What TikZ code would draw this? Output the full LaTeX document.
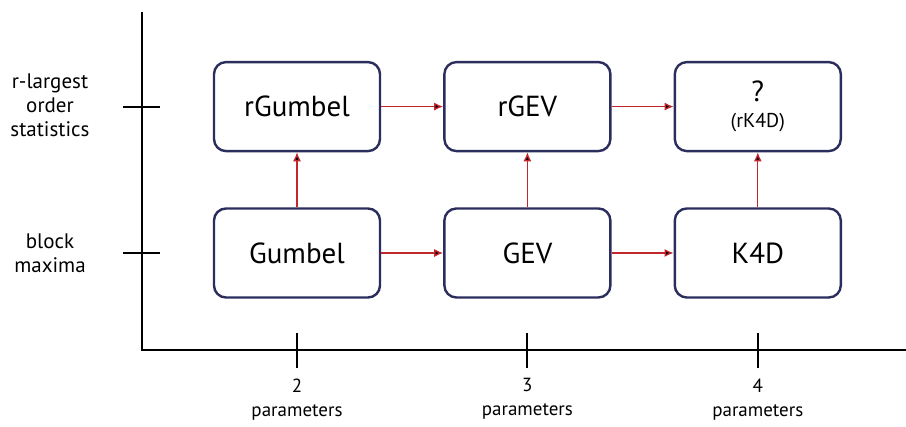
\documentclass[tikz,border=0pt]{standalone}
\usepackage{fontspec}
\setmainfont{PT Sans}
\usetikzlibrary{arrows.meta, positioning}

\definecolor{boxline}{HTML}{2B2D5C}
\definecolor{arrred}{HTML}{C1272D}

\begin{document}
\begin{tikzpicture}[x=1pt, y=1pt,
node distance = 55pt and 62pt,
box/.style = {draw=boxline, line width=2.4pt, rounded corners=12pt,
              minimum width=166pt, minimum height=89pt,
              align=center, font=\fontsize{29}{33}\selectfont},
lbl/.style = {align=center, font=\fontsize{21}{25}\selectfont},
axis/.style = {line width=2pt},
arr/.style = {draw=arrred, line width=1.3pt, -{Latex[length=9pt,width=8pt]}},
                    ]
%---
\useasboundingbox (0,0) rectangle (906,427);

\node[box] (gumbel) at (297,174) {Gumbel};
\node[box] (gev)  [right=of gumbel] {GEV};
\node[box] (kfd)  [right=of gev]    {K4D};
\node[box] (rgumbel) [above=of gumbel] {rGumbel};
\node[box] (rgev) [above=of gev]    {rGEV};
\node[box] (rkfd) [above=of kfd]    {?\\[-7pt]{\fontsize{20}{24}\selectfont (rK4D)}};

% axes
\coordinate (origin) at (142,77);
\coordinate (ytop)   at (142,415);
\coordinate (xend)   at (906,77);
\draw[axis] (ytop) -- (origin) -- (xend);

% ticks on the y axis
\foreach \n in {gumbel, rgumbel}
    \draw[axis] (origin |- \n) ++(-19,0) -- ++(37,0);
% ticks on the x axis
\foreach \n in {gumbel, gev, kfd}
    \draw[axis] (\n |- origin) ++(0,17) -- ++(0,-35);

% labels
\node[lbl] (rlo) at (50,322) {r-largest\\[-1pt] order\\[-1pt] statistics};
\node[lbl] (bm)  at (50,174) {block\\[-1pt] maxima};
\node[lbl, font=\fontsize{19}{23}\selectfont, below=25pt of gumbel |- origin, anchor=north] (p2) {2\\[1pt] parameters};
\node[lbl, font=\fontsize{19}{23}\selectfont, below=25pt of gev |- origin, anchor=north]    (p3) {3\\[1pt] parameters};
\node[lbl, font=\fontsize{19}{23}\selectfont, below=25pt of kfd |- origin, anchor=north]    (p4) {4\\[1pt] parameters};

\path[arr]
        (gumbel) edge (gev)
        (gev)    edge (kfd)
        (rgumbel) edge (rgev)
        (rgev)   edge (rkfd)
        (gumbel) edge (rgumbel)
        (gev)    edge (rgev)
        (kfd)    edge (rkfd);
\end{tikzpicture}
\end{document}
